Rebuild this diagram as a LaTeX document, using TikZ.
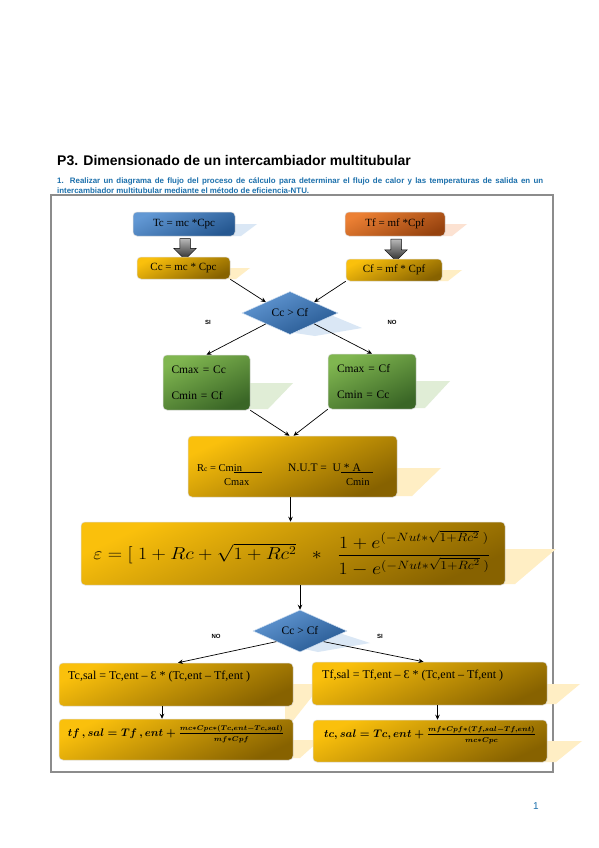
\documentclass[tikz,border=0pt]{standalone}
\usepackage{amsmath}
\usepackage{fontspec}
\setmainfont{Liberation Serif}
\setsansfont{Liberation Sans}
\usetikzlibrary{shapes.geometric,shapes.arrows,arrows.meta}

\definecolor{goldA}{RGB}{250,192,12}
\definecolor{goldB}{RGB}{135,98,0}
\definecolor{blueA}{RGB}{98,152,212}
\definecolor{blueB}{RGB}{38,88,145}
\definecolor{orangeA}{RGB}{236,128,52}
\definecolor{orangeB}{RGB}{150,66,14}
\definecolor{greenA}{RGB}{128,182,80}
\definecolor{greenB}{RGB}{58,102,38}
\definecolor{titleblue}{RGB}{28,112,172}
\definecolor{framegray}{RGB}{140,140,140}
\definecolor{shBlue}{RGB}{218,231,245}
\definecolor{shGold}{RGB}{255,238,196}
\definecolor{shGreen}{RGB}{224,237,214}
\definecolor{shOrange}{RGB}{252,226,210}

\tikzset{
  flowbox/.style={rounded corners=4pt, inner sep=0pt, draw=white!70!gray, line width=0.5pt},
  goldbox/.style={flowbox, top color=goldA, bottom color=goldB, shading angle=25},
  bluebox/.style={flowbox, top color=blueA, bottom color=blueB, shading angle=25},
  orangebox/.style={flowbox, top color=orangeA, bottom color=orangeB, shading angle=25},
  greenbox/.style={flowbox, top color=greenA, bottom color=greenB, shading angle=25},
  decision/.style={diamond, aspect=2.2, inner sep=0pt, draw=white!70!blueA, line width=0.5pt,
    top color=blueA, bottom color=blueB, shading angle=25, font=\fontsize{11.5}{13}\selectfont},
  downarrow/.style={single arrow, shape border rotate=270, draw=black, line width=0.5pt,
    top color=gray!55, bottom color=black!85, inner sep=5pt, minimum width=22pt,
    single arrow head extend=6pt, single arrow head indent=0pt},
  link/.style={-{Stealth[length=5pt,width=4.5pt]}, line width=0.7pt},
  branch/.style={font=\sffamily\bfseries\fontsize{6}{7}\selectfont},
  boxtext/.style={font=\fontsize{11}{13}\selectfont}
}

\begin{document}
\begin{tikzpicture}[x=1pt, y=-1pt]
\fill[white] (0,0) rectangle (599,848);
\useasboundingbox (0,0) rectangle (599,848);

% Heading
\node[anchor=base west, inner sep=0pt, font=\sffamily\bfseries\fontsize{14}{16}\selectfont] (title) at (57,165)
  {P3. Dimensionado de un intercambiador multitubular};
\node[anchor=base west, inner sep=0pt, text=titleblue, font=\sffamily\bfseries\fontsize{7.9}{9}\selectfont] (task1) at (57,183)
  {\makebox[486pt][s]{1. Realizar un diagrama de flujo del proceso de cálculo para determinar el flujo de calor y las temperaturas de salida en un}};
\node[anchor=base west, inner sep=0pt, text=titleblue, font=\sffamily\bfseries\fontsize{7.9}{9}\selectfont] (task2) at (57,193.5)
  {intercambiador multitubular mediante el método de eficiencia-NTU.};

% Frame
\draw[framegray, line width=1.3pt] (51,195) rectangle (553,772);

% Shadows behind the boxes
\fill[shBlue] (226,224) -- (257,224) -- (241,236) -- (226,236) -- cycle;
\fill[shGold] (222,268) -- (250,268) -- (236,279) -- (222,279) -- cycle;
\fill[shOrange] (437,224) -- (467,224) -- (452,236) -- (437,236) -- cycle;
\fill[shGold] (434,270) -- (462,270) -- (448,281) -- (434,281) -- cycle;
\fill[shBlue] (326,313) -- (362,328) -- (315,336) -- (295,333) -- cycle;
\fill[shGreen] (240,383) -- (293,383) -- (268,409) -- (240,409) -- cycle;
\fill[shGreen] (405,381) -- (450,381) -- (425,408) -- (405,408) -- cycle;
\fill[shGold] (390,468) -- (441,468) -- (412,496) -- (390,496) -- cycle;
\fill[shGold] (498,549) -- (556,549) -- (515,584) -- (498,584) -- cycle;
\fill[shBlue] (330,630) -- (370,643) -- (318,652) -- (300,648) -- cycle;
\fill[shGold] (285,684) -- (322,684) -- (292,722) -- (285,722) -- cycle;
\fill[shGold] (540,684) -- (580,684) -- (556,704) -- (540,704) -- cycle;
\fill[shGold] (285,740) -- (320,740) -- (300,758) -- (285,758) -- cycle;
\fill[shGold] (540,741) -- (582,741) -- (556,762) -- (540,762) -- cycle;

% Capacity rates
\node[bluebox, boxtext, minimum width=102pt, minimum height=24pt] (tc) at (184,224) {Tc = mc *Cpc\hspace{10pt}};
\node[orangebox, boxtext, minimum width=100pt, minimum height=24pt] (tf) at (395,224) {Tf = mf *Cpf\hspace{6pt}};
\node[downarrow, minimum height=21pt] (arrc) at (185,246.5) {};
\node[downarrow, minimum height=22pt] (arrf) at (396,247.5) {};
\node[goldbox, boxtext, minimum width=93pt, minimum height=22pt] (cc) at (183.5,268) {Cc = mc * Cpc};
\node[goldbox, boxtext, minimum width=96pt, minimum height=22pt] (cf) at (394,270) {Cf = mf * Cpf};

% First decision
\node[decision, minimum width=96pt, minimum height=43pt] (d1) at (290,313) {Cc > Cf};
\node[branch] (si1) at (208,322) {SI};
\node[branch] (no1) at (392,322) {NO};

\node[greenbox, minimum width=87pt, minimum height=55pt, align=left, text width=70pt,
  font=\fontsize{11.5}{13}\selectfont] (gl) at (206.5,382.5) {Cmax = Cc\\[13pt]Cmin = Cf};
\node[greenbox, minimum width=88pt, minimum height=55pt, align=left, text width=70pt,
  font=\fontsize{11.5}{13}\selectfont] (gr) at (372,381.5) {Cmax = Cf\\[13pt]Cmin = Cc};

% Rc and NUT
\node[goldbox, minimum width=209pt, minimum height=61pt] (rc) at (292.5,466.5) {};
\node[anchor=base west, inner sep=0pt, font=\fontsize{10.5}{12}\selectfont] (rcnum) at (197,471)
  {R{\fontsize{7.5}{8}\selectfont c} = Cm\underline{in\hspace{20pt}}};
\node[anchor=base west, inner sep=0pt, font=\fontsize{10.5}{12}\selectfont] (rcden) at (224,485) {Cmax};
\node[anchor=base west, inner sep=0pt, font=\fontsize{11.5}{13}\selectfont] (nutnum) at (288,471)
  {N.U.T = \ U\underline{ * A\hspace{12pt}}};
\node[anchor=base west, inner sep=0pt, font=\fontsize{10.5}{12}\selectfont] (nutden) at (346,485) {Cmin};

% Effectiveness
\node[goldbox, minimum width=424pt, minimum height=63pt] (eps) at (293,553.5) {};
\node[inner sep=0pt, xscale=1.15, font=\fontsize{18}{20}\selectfont] (epsf) at (292,553)
  {$\varepsilon = [\;1 + Rc + \sqrt{1 + Rc^2}\;\;\ast\;\;\dfrac{1 + e^{(-Nut\ast\sqrt{1+Rc^2}\;)}}{1 - e^{(-Nut\ast\sqrt{1+Rc^2}\;)}}$};

% Second decision
\node[decision, minimum width=94pt, minimum height=42pt] (d2) at (300,631) {Cc > Cf};
\node[branch] (no2) at (216,636) {NO};
\node[branch] (si2) at (380,636) {SI};

% Outlet temperatures
\node[goldbox, minimum width=234pt, minimum height=43pt] (tl) at (176,684.5) {};
\node[anchor=base west, inner sep=0pt, font=\fontsize{12}{14}\selectfont] (tltext) at (68,679)
  {Tc,sal = Tc,ent – Ɛ * (Tc,ent – Tf,ent )};
\node[goldbox, minimum width=235pt, minimum height=43pt] (tr) at (429.5,683.5) {};
\node[anchor=base west, inner sep=0pt, font=\fontsize{12}{14}\selectfont] (trtext) at (322,678)
  {Tf,sal = Tf,ent – Ɛ * (Tc,ent – Tf,ent )};

\node[goldbox, minimum width=234pt, minimum height=41pt] (bl) at (176,739.5) {};
\node[inner sep=0pt, font=\fontsize{10.5}{12}\selectfont\boldmath] (blf) at (176,734)
  {$tf\,, sal = Tf\,, ent + \frac{\scriptstyle mc\ast Cpc\ast(Tc,ent-Tc,sal)\rule[-2.5pt]{0pt}{0pt}}{\scriptstyle\rule{0pt}{7.5pt}mf\ast Cpf}$};
\node[goldbox, minimum width=234pt, minimum height=42pt] (br) at (430,741) {};
\node[inner sep=0pt, font=\fontsize{10.5}{12}\selectfont\boldmath] (brf) at (430,735)
  {$tc, sal = Tc, ent + \frac{\scriptstyle mf\ast Cpf\ast(Tf,sal-Tf,ent)\rule[-2.5pt]{0pt}{0pt}}{\scriptstyle\rule{0pt}{7.5pt}mc\ast Cpc}$};

% Connectors
\draw[link] (cc.south east) -- (d1.north west);
\draw[link] (cf.south west) -- (d1.north east);
\draw[link] (d1.south west) -- (gl.north);
\draw[link] (d1.south east) -- (gr.north);
\draw[link] (gl.south east) -- ([xshift=-3pt]rc.north);
\draw[link] (gr.south west) -- ([xshift=1pt]rc.north);
\draw[link] ([xshift=-2pt]rc.south) -- ([xshift=-2pt]rc.south |- eps.north);
\draw[link] (d2.north |- eps.south) -- (d2.north);
\draw[link] (d2.south west) -- ([xshift=2pt]tl.north);
\draw[link] (d2.south east) -- ([xshift=-6pt]tr.north);
\draw[link] ([xshift=-14pt]tl.south) -- ([xshift=-14pt]bl.north);
\draw[link] ([xshift=8pt]tr.south) -- ([xshift=8pt]tr.south |- br.north);

% Page number
\node[text=titleblue, font=\sffamily\fontsize{10}{12}\selectfont] (page) at (536,806) {1};
\end{tikzpicture}
\end{document}
